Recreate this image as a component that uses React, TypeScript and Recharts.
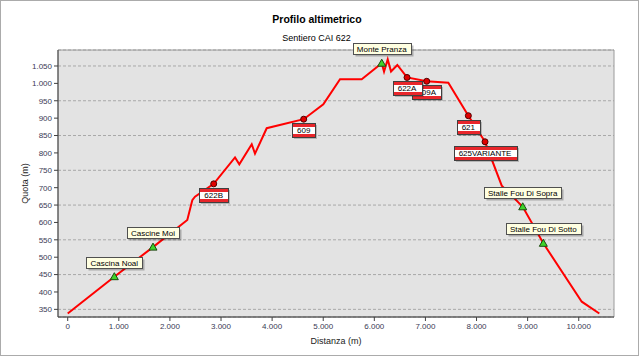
import React from "react";
import {
  ComposedChart,
  Line,
  Scatter,
  XAxis,
  YAxis,
  CartesianGrid,
  ReferenceArea,
} from "recharts";

// profilo: distanza progressiva (m) e quota (m)
const distanza = [
  0, 912, 1669, 2340, 2438, 2491, 2857, 3274, 3358, 3601, 3665, 3894, 4618,
  5002, 5329, 5753, 6145, 6190, 6262, 6327, 6450, 6640, 7025, 7448, 7840,
  8166, 8493, 8904, 9307, 10059, 10403,
];
const quota = [
  338, 444, 529, 607, 664, 674, 711, 787, 767, 825, 798, 871, 897, 940, 1012,
  1012, 1058, 1034, 1069, 1034, 1053, 1017, 1006, 1002, 907, 832, 706, 645,
  540, 372, 338,
];

// incroci con altri sentieri (cartelli bianco-rossi)
const sentieriNomi = ["622B", "609", "409A", "622A", "621", "625VARIANTE"];
const sentieriDist = [2857, 4618, 7025, 6640, 7840, 8166];
const sentieriQuota = [711, 897, 1006, 1017, 907, 832];

// località
const localitaNomi = [
  "Cascina Noal",
  "Cascine Moi",
  "Monte Pranza",
  "Stalle Fou Di Sopra",
  "Stalle Fou Di Sotto",
];
const localitaDist = [912, 1669, 6145, 8904, 9307];
const localitaQuota = [444, 529, 1058, 645, 540];

const xTicks = [0, 1000, 2000, 3000, 4000, 5000, 6000, 7000, 8000, 9000, 10000];
const yTicks = [350, 400, 450, 500, 550, 600, 650, 700, 750, 800, 850, 900, 950, 1000, 1050];

const profilo = distanza.map((d, i) => ({ distanza: d, quota: quota[i] }));
const sentieri = sentieriNomi.map((n, i) => ({
  nome: n,
  distanza: sentieriDist[i],
  quota: sentieriQuota[i],
}));
const localita = localitaNomi.map((n, i) => ({
  nome: n,
  distanza: localitaDist[i],
  quota: localitaQuota[i],
}));

const FONT = '"Liberation Sans", Arial, sans-serif';

let ctx: CanvasRenderingContext2D | null = null;
const textWidth = (text: string, size: number) => {
  if (!ctx) ctx = document.createElement("canvas").getContext("2d");
  if (!ctx) return text.length * size * 0.55;
  ctx.font = `${size}px "Liberation Sans", Arial`;
  return ctx.measureText(text).width;
};

const thousands = (v: number) => String(v).replace(/\B(?=(\d{3})+(?!\d))/g, ".");

const SentieroShape = (props: any) => {
  const { cx, cy, payload } = props;
  const w = Math.round(textWidth(payload.nome, 8) + 10);
  const h = 14;
  const x = Math.round(cx - w / 2) + 0.5;
  const y = Math.round(cy + 4) + 0.5;
  return (
    <g>
      <circle cx={cx} cy={cy} r={3} fill="#e00000" stroke="#500000" strokeWidth={1} />
      <rect x={x + 1.5} y={y + 1.5} width={w} height={h} fill="rgba(0,0,0,0.2)" />
      <rect x={x} y={y} width={w} height={h} fill="#ffffff" stroke="#404040" />
      <rect x={x + 0.5} y={y + 0.5} width={w - 1} height={3} fill="#e8262b" />
      <rect x={x + 0.5} y={y + h - 3.5} width={w - 1} height={3} fill="#e8262b" />
      <text
        x={cx}
        y={y + h / 2}
        dominantBaseline="central"
        textAnchor="middle"
        fontSize={8}
        fontFamily={FONT}
        fill="#000"
      >
        {payload.nome}
      </text>
    </g>
  );
};

const LocalitaShape = (props: any) => {
  const { cx, cy, payload } = props;
  const w = Math.round(textWidth(payload.nome, 8) + 8);
  const h = 11;
  const x = Math.round(cx - w / 2) + 0.5;
  const y = Math.round(cy - 9 - h) + 0.5;
  return (
    <g>
      <polygon
        points={`${cx},${cy - 4} ${cx + 4},${cy + 3} ${cx - 4},${cy + 3}`}
        fill="#3fd42a"
        stroke="#1c4a10"
        strokeWidth={1}
      />
      <rect x={x + 2} y={y + 2} width={w} height={h} fill="rgba(0,0,0,0.25)" />
      <rect x={x} y={y} width={w} height={h} fill="#ffffe1" stroke="#505050" />
      <text
        x={cx}
        y={y + h / 2}
        dominantBaseline="central"
        textAnchor="middle"
        fontSize={8}
        fontFamily={FONT}
        fill="#000"
      >
        {payload.nome}
      </text>
    </g>
  );
};

const tickStyle = { fontSize: 8, fill: "#3a3a55", fontFamily: FONT };

export default function App() {
  return (
    <div style={{ position: "absolute", left: 0, top: 0, width: 640, height: 357, background: "#fff" }}>
      <div
        style={{
          position: "absolute",
          left: 0,
          top: 0,
          width: 639,
          height: 356,
          border: "1px solid #ababab",
          boxSizing: "border-box",
        }}
      />
      <div
        style={{
          position: "absolute",
          left: 0,
          top: 13,
          width: 634,
          textAlign: "center",
          fontFamily: FONT,
          fontWeight: "bold",
          fontSize: 10.5,
          color: "#000",
        }}
      >
        Profilo altimetrico
      </div>
      <div
        style={{
          position: "absolute",
          left: 0,
          top: 33,
          width: 633,
          textAlign: "center",
          fontFamily: FONT,
          fontSize: 9,
          color: "#000",
        }}
      >
        Sentiero CAI 622
      </div>
      <div style={{ position: "absolute", left: 0, top: 0 }}>
        <ComposedChart
          width={640}
          height={357}
          margin={{ top: 50, right: 26, bottom: 10, left: 0 }}
        >
          <CartesianGrid
            vertical={false}
            stroke="#a8a8a8"
            strokeDasharray="3 2"
            fill="#e3e3e3"
            fillOpacity={1}
          />
          <ReferenceArea
            x1={-190}
            x2={10690}
            y1={328}
            y2={1096}
            fill="none"
            stroke="#9a9a9a"
          />
          <XAxis
            type="number"
            dataKey="distanza"
            domain={[-190, 10690]}
            ticks={xTicks}
            tickFormatter={thousands}
            tick={tickStyle}
            tickSize={4}
            tickLine={{ stroke: "#404040" }}
            axisLine={{ stroke: "#404040" }}
            height={30}
            label={{
              value: "Distanza (m)",
              position: "insideBottom",
              offset: 3,
              style: { fontSize: 9, fill: "#222", fontFamily: FONT },
            }}
          />
          <YAxis
            type="number"
            dataKey="quota"
            domain={[328, 1096]}
            ticks={yTicks}
            tickFormatter={thousands}
            tick={tickStyle}
            tickSize={4}
            tickLine={{ stroke: "#404040" }}
            axisLine={{ stroke: "#404040" }}
            width={58}
            label={{
              value: "Quota (m)",
              angle: -90,
              position: "center",
              dx: -4,
              style: { fontSize: 9, fill: "#222", fontFamily: FONT, textAnchor: "middle" },
            }}
          />
          <Line
            data={profilo}
            dataKey="quota"
            type="linear"
            stroke="#ff0000"
            strokeWidth={2}
            dot={false}
            activeDot={false}
            isAnimationActive={false}
          />
          <Scatter
            data={sentieri}
            dataKey="quota"
            shape={SentieroShape}
            isAnimationActive={false}
          />
          <Scatter
            data={localita}
            dataKey="quota"
            shape={LocalitaShape}
            isAnimationActive={false}
          />
        </ComposedChart>
      </div>
    </div>
  );
}
